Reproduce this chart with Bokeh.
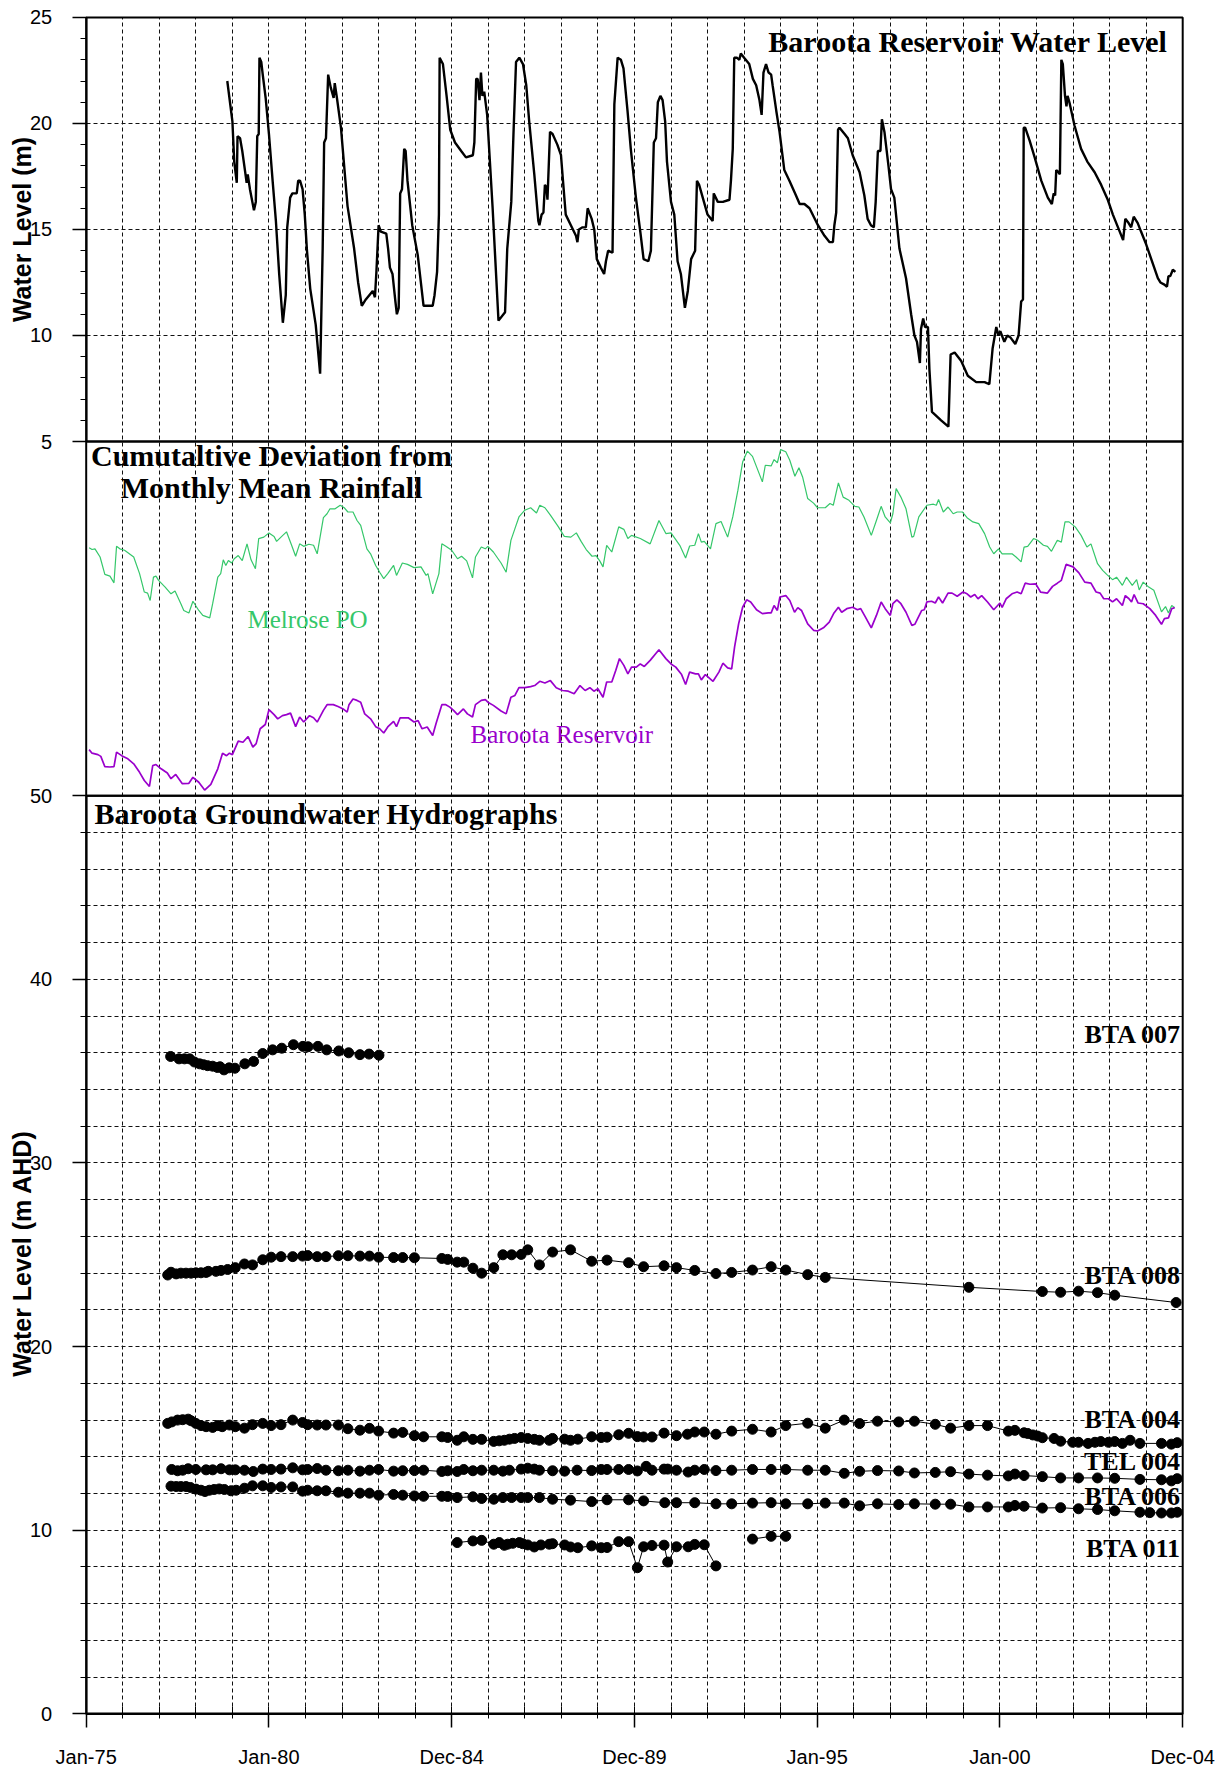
import math
import numpy as np
from bokeh.plotting import figure
from bokeh.models import Range1d, LinearAxis, FixedTicker, Grid, Label, BoxAnnotation
from bokeh.embed import file_html
from bokeh.resources import INLINE

# ---------------- data ----------------
# Baroota Reservoir water level (m)
res_year = [1978.86, 1979.00, 1979.05, 1979.12, 1979.14, 1979.21, 1979.27, 1979.35, 1979.39, 1979.42,
            1979.48, 1979.59, 1979.64, 1979.68, 1979.72, 1979.74, 1979.79, 1979.83, 1979.91, 1980.00,
            1980.10, 1980.19, 1980.28, 1980.38, 1980.46, 1980.50, 1980.58, 1980.64, 1980.76, 1980.80,
            1980.85, 1980.92, 1980.98, 1981.04, 1981.13, 1981.28, 1981.40, 1981.47, 1981.51, 1981.56,
            1981.62, 1981.69, 1981.77, 1981.80, 1981.86, 1981.97, 1982.15, 1982.33, 1982.44, 1982.54,
            1982.65, 1982.84, 1982.90, 1982.94, 1983.00, 1983.06, 1983.21, 1983.26, 1983.31, 1983.38,
            1983.46, 1983.50, 1983.55, 1983.59, 1983.64, 1983.70, 1983.74, 1983.79, 1983.92, 1984.07,
            1984.23, 1984.48, 1984.53, 1984.60, 1984.65, 1984.67, 1984.76, 1984.86, 1984.96, 1985.09,
            1985.26, 1985.39, 1985.58, 1985.62, 1985.67, 1985.71, 1985.76, 1985.80, 1985.84, 1985.89,
            1985.97, 1986.12, 1986.28, 1986.46, 1986.52, 1986.63, 1986.69, 1986.76, 1986.85, 1986.95,
            1987.04, 1987.12, 1987.26, 1987.37, 1987.40, 1987.46, 1987.51, 1987.55, 1987.59, 1987.62,
            1987.69, 1987.76, 1987.89, 1987.99, 1988.04, 1988.12, 1988.26, 1988.40, 1988.44, 1988.48,
            1988.58, 1988.67, 1988.72, 1988.83, 1988.90, 1988.97, 1989.08, 1989.17, 1989.22, 1989.28,
            1989.40, 1989.45, 1989.54, 1989.63, 1989.70, 1989.81, 1989.90, 1990.04, 1990.16, 1990.25,
            1990.38, 1990.45, 1990.53, 1990.59, 1990.64, 1990.71, 1990.77, 1990.84, 1990.89, 1991.00,
            1991.09, 1991.18, 1991.27, 1991.38, 1991.46, 1991.55, 1991.66, 1991.71, 1991.77, 1992.00,
            1992.14, 1992.17, 1992.28, 1992.42, 1992.60, 1992.64, 1992.69, 1992.73, 1992.80, 1992.87,
            1992.91, 1993.00, 1993.14, 1993.24, 1993.33, 1993.42, 1993.48, 1993.53, 1993.60, 1993.67,
            1993.74, 1993.78, 1993.88, 1993.97, 1994.10, 1994.24, 1994.42, 1994.52, 1994.65, 1994.79,
            1995.02, 1995.20, 1995.34, 1995.43, 1995.47, 1995.52, 1995.57, 1995.61, 1995.75, 1995.84,
            1995.97, 1996.16, 1996.29, 1996.38, 1996.47, 1996.55, 1996.60, 1996.66, 1996.73, 1996.77,
            1996.84, 1996.95, 1997.02, 1997.11, 1997.25, 1997.43, 1997.57, 1997.66, 1997.73, 1997.81,
            1997.84, 1997.90, 1997.95, 1998.03, 1998.07, 1998.14, 1998.39, 1998.59, 1998.65, 1998.76,
            1998.94, 1999.12, 1999.35, 1999.58, 1999.71, 1999.80, 1999.90, 1999.96, 2000.01, 2000.12,
            2000.20, 2000.29, 2000.42, 2000.51, 2000.58, 2000.63, 2000.65, 2000.69, 2000.81, 2000.95,
            2001.13, 2001.31, 2001.42, 2001.47, 2001.51, 2001.54, 2001.60, 2001.64, 2001.68, 2001.72,
            2001.78, 2001.82, 2001.85, 2001.90, 2002.04, 2002.22, 2002.39, 2002.59, 2002.77, 2002.95,
            2003.09, 2003.23, 2003.37, 2003.43, 2003.52, 2003.59, 2003.66, 2003.77, 2003.86, 2004.00,
            2004.14, 2004.32, 2004.39, 2004.50, 2004.57, 2004.61, 2004.66, 2004.73, 2004.80]
res_level = [22.0, 20.1, 18.2, 17.2, 19.4, 19.3, 18.7, 17.7, 17.2, 17.6,
             16.9, 15.9, 16.3, 19.4, 19.5, 23.1, 22.9, 22.3, 21.2, 19.5,
             17.3, 15.4, 12.9, 10.6, 11.9, 15.1, 16.5, 16.7, 16.7, 17.3,
             17.3, 16.9, 15.7, 14.0, 12.2, 10.5, 8.2, 14.1, 19.1, 19.3,
             22.3, 21.7, 21.2, 21.9, 21.2, 19.8, 16.1, 14.1, 12.5, 11.4,
             11.7, 12.1, 11.8, 13.0, 15.2, 14.9, 14.8, 14.1, 13.2, 12.9,
             11.6, 11.0, 11.3, 16.7, 16.9, 18.8, 18.7, 17.3, 15.2, 13.8,
             11.4, 11.4, 11.9, 13.0, 15.7, 23.1, 22.8, 21.3, 19.7, 19.1,
             18.7, 18.4, 18.5, 19.1, 22.1, 22.1, 21.1, 22.4, 21.3, 21.5,
             20.4, 16.0, 10.7, 11.1, 14.1, 16.3, 19.5, 22.9, 23.1, 22.8,
             21.8, 20.1, 17.6, 15.4, 15.2, 15.7, 15.8, 17.1, 17.0, 16.4,
             19.6, 19.5, 19.0, 18.5, 17.4, 15.7, 15.2, 14.7, 14.4, 15.0,
             15.1, 15.1, 16.0, 15.5, 15.0, 13.6, 13.2, 12.9, 13.5, 14.0,
             13.9, 20.9, 23.1, 23.0, 22.6, 20.6, 18.8, 16.5, 14.9, 13.6,
             13.5, 14.0, 19.1, 19.3, 21.0, 21.3, 21.1, 20.1, 18.2, 16.3,
             15.7, 13.5, 12.9, 11.3, 12.1, 13.6, 14.0, 17.3, 17.1, 15.7,
             15.4, 16.7, 16.3, 16.3, 16.4, 17.3, 18.8, 23.1, 23.1, 23.0,
             23.3, 23.1, 22.8, 22.1, 21.8, 21.1, 20.4, 22.4, 22.8, 22.4,
             22.3, 21.8, 20.6, 19.6, 17.8, 17.3, 16.6, 16.2, 16.2, 16.0,
             15.2, 14.7, 14.4, 14.4, 15.2, 15.8, 19.7, 19.8, 19.5, 19.3,
             18.5, 17.7, 16.6, 15.5, 15.2, 15.1, 16.3, 18.7, 18.7, 20.2,
             19.6, 18.0, 16.9, 16.5, 14.1, 12.7, 11.0, 10.0, 9.7, 8.7,
             10.3, 10.8, 10.4, 10.4, 8.4, 6.4, 6.0, 5.7, 9.1, 9.2,
             8.8, 8.1, 7.8, 7.8, 7.7, 9.4, 10.4, 10.0, 10.2, 9.7,
             10.0, 9.9, 9.6, 10.0, 11.6, 11.7, 19.8, 19.8, 19.2, 18.4,
             17.3, 16.5, 16.2, 16.7, 16.6, 17.8, 17.7, 17.6, 23.0, 22.8,
             21.3, 20.8, 21.3, 21.0, 19.9, 18.8, 18.2, 17.7, 17.1, 16.4,
             15.7, 15.1, 14.5, 15.5, 15.3, 15.1, 15.6, 15.3, 14.9, 14.3,
             13.6, 12.7, 12.5, 12.4, 12.3, 12.8, 12.8, 13.1, 13.0]

# Cumulative deviation from monthly mean rainfall (relative units, no scale shown)
melrose_year = [1975.08, 1975.16, 1975.24, 1975.38, 1975.51, 1975.65, 1975.76, 1975.83, 1975.92, 1976.05,
                1976.30, 1976.46, 1976.59, 1976.68, 1976.75, 1976.84, 1976.91, 1976.98, 1977.16, 1977.32,
                1977.43, 1977.59, 1977.67, 1977.81, 1977.92, 1978.08, 1978.19, 1978.38, 1978.46, 1978.60,
                1978.68, 1978.75, 1978.82, 1978.89, 1978.98, 1979.05, 1979.16, 1979.27, 1979.40, 1979.51,
                1979.63, 1979.72, 1979.86, 1980.00, 1980.14, 1980.21, 1980.35, 1980.48, 1980.62, 1980.73,
                1980.84, 1980.95, 1981.09, 1981.22, 1981.32, 1981.49, 1981.59, 1981.67, 1981.81, 1981.95,
                1982.06, 1982.16, 1982.30, 1982.41, 1982.51, 1982.68, 1982.78, 1982.92, 1983.03, 1983.14,
                1983.25, 1983.41, 1983.49, 1983.65, 1983.79, 1983.97, 1984.16, 1984.30, 1984.35, 1984.48,
                1984.65, 1984.73, 1984.84, 1985.00, 1985.16, 1985.27, 1985.41, 1985.57, 1985.65, 1985.81,
                1985.92, 1985.99, 1986.14, 1986.35, 1986.49, 1986.62, 1986.73, 1986.84, 1987.00, 1987.16,
                1987.32, 1987.41, 1987.55, 1987.70, 1987.92, 1988.08, 1988.26, 1988.41, 1988.54, 1988.68,
                1988.84, 1988.95, 1989.05, 1989.14, 1989.24, 1989.38, 1989.57, 1989.71, 1989.82, 1989.92,
                1990.16, 1990.43, 1990.67, 1990.86, 1991.00, 1991.24, 1991.40, 1991.51, 1991.65, 1991.75,
                1991.83, 1991.91, 1992.08, 1992.23, 1992.37, 1992.55, 1992.69, 1992.83, 1992.96, 1993.09,
                1993.23, 1993.50, 1993.58, 1993.74, 1993.82, 1993.91, 1994.00, 1994.14, 1994.25, 1994.39,
                1994.50, 1994.60, 1994.74, 1994.90, 1995.01, 1995.22, 1995.35, 1995.44, 1995.58, 1995.71,
                1995.87, 1996.03, 1996.14, 1996.28, 1996.48, 1996.62, 1996.75, 1996.86, 1997.00, 1997.07,
                1997.16, 1997.29, 1997.43, 1997.59, 1997.64, 1997.78, 1998.00, 1998.18, 1998.26, 1998.32,
                1998.45, 1998.58, 1998.72, 1998.83, 1998.97, 1999.10, 1999.26, 1999.42, 1999.58, 1999.72,
                1999.83, 1999.96, 2000.06, 2000.23, 2000.33, 2000.44, 2000.58, 2000.66, 2000.76, 2000.92,
                2001.03, 2001.19, 2001.30, 2001.41, 2001.57, 2001.68, 2001.78, 2001.89, 2002.06, 2002.22,
                2002.38, 2002.49, 2002.67, 2002.81, 2002.92, 2003.08, 2003.19, 2003.35, 2003.46, 2003.62,
                2003.74, 2003.81, 2003.92, 2004.07, 2004.21, 2004.42, 2004.53, 2004.61, 2004.70, 2004.78]
melrose_dev = [70.0, 69.5, 69.7, 67.4, 62.5, 62.0, 60.1, 70.4, 69.7, 69.3,
               67.4, 62.7, 57.5, 57.2, 55.1, 61.7, 62.0, 60.8, 58.9, 57.0,
               57.8, 54.2, 52.3, 51.6, 54.9, 52.3, 50.9, 50.2, 54.2, 61.7,
               62.7, 66.6, 65.0, 66.4, 65.7, 66.9, 67.8, 66.4, 71.1, 66.6,
               64.1, 72.6, 73.0, 74.2, 73.2, 71.8, 73.2, 74.5, 70.7, 67.6,
               71.1, 70.4, 71.0, 70.7, 68.3, 78.5, 79.6, 81.0, 81.0, 82.0,
               81.3, 80.1, 80.1, 77.7, 76.3, 69.7, 68.3, 65.0, 63.1, 61.3,
               62.7, 65.0, 62.2, 65.7, 65.3, 64.4, 64.6, 62.2, 62.7, 57.0,
               62.7, 71.1, 70.4, 69.3, 66.9, 67.6, 66.3, 61.5, 67.4, 70.2,
               69.7, 70.4, 68.8, 65.7, 63.1, 72.1, 75.4, 78.7, 80.6, 81.3,
               79.8, 82.0, 81.3, 79.2, 75.9, 73.2, 73.0, 74.2, 71.8, 69.5,
               67.6, 67.8, 66.3, 64.6, 70.7, 68.8, 75.9, 75.2, 72.6, 73.5,
               72.6, 71.1, 77.7, 74.0, 74.2, 70.7, 67.1, 70.5, 70.7, 74.0,
               71.6, 71.8, 69.7, 76.8, 77.4, 73.0, 78.7, 86.2, 94.2, 97.3,
               95.8, 88.6, 93.3, 93.1, 94.9, 94.0, 97.7, 97.1, 94.7, 90.2,
               92.6, 90.0, 83.9, 82.6, 81.3, 81.3, 82.5, 82.0, 88.3, 84.3,
               83.4, 81.7, 81.5, 78.7, 73.5, 77.7, 81.7, 78.7, 77.0, 79.6,
               86.7, 84.3, 81.0, 73.0, 73.2, 78.7, 82.0, 82.3, 82.0, 83.6,
               80.1, 81.5, 79.6, 80.1, 80.1, 78.5, 77.3, 76.8, 74.0, 70.2,
               68.3, 69.7, 68.3, 68.3, 68.3, 67.4, 66.0, 70.2, 70.4, 72.6,
               72.1, 70.7, 70.4, 69.0, 72.1, 71.6, 77.3, 77.3, 75.9, 73.5,
               70.2, 71.1, 65.5, 63.6, 62.5, 61.0, 61.7, 59.4, 61.7, 59.4,
               61.0, 58.1, 60.3, 58.9, 58.0, 51.9, 53.4, 51.6, 53.7, 53.1]

baroota_year = [1975.08, 1975.16, 1975.32, 1975.40, 1975.51, 1975.65, 1975.76, 1975.83, 1975.97, 1976.14,
                1976.30, 1976.46, 1976.59, 1976.73, 1976.82, 1976.91, 1977.05, 1977.22, 1977.32, 1977.45,
                1977.63, 1977.81, 1977.92, 1978.08, 1978.24, 1978.41, 1978.60, 1978.73, 1978.84, 1978.92,
                1979.00, 1979.16, 1979.29, 1979.43, 1979.56, 1979.65, 1979.76, 1979.90, 1980.00, 1980.14,
                1980.24, 1980.37, 1980.48, 1980.59, 1980.73, 1980.84, 1980.95, 1981.11, 1981.22, 1981.32,
                1981.49, 1981.59, 1981.76, 1981.89, 1982.03, 1982.14, 1982.19, 1982.30, 1982.41, 1982.51,
                1982.62, 1982.78, 1982.92, 1983.03, 1983.14, 1983.25, 1983.41, 1983.49, 1983.59, 1983.81,
                1983.97, 1984.08, 1984.19, 1984.33, 1984.48, 1984.57, 1984.73, 1984.84, 1984.95, 1985.05,
                1985.16, 1985.32, 1985.43, 1985.57, 1985.65, 1985.81, 1985.92, 1985.99, 1986.14, 1986.35,
                1986.49, 1986.62, 1986.73, 1986.84, 1987.00, 1987.16, 1987.27, 1987.41, 1987.55, 1987.70,
                1987.86, 1988.03, 1988.19, 1988.35, 1988.51, 1988.65, 1988.78, 1988.89, 1989.00, 1989.14,
                1989.24, 1989.38, 1989.49, 1989.59, 1989.71, 1989.82, 1989.92, 1990.05, 1990.16, 1990.27,
                1990.43, 1990.67, 1990.86, 1991.00, 1991.13, 1991.29, 1991.40, 1991.51, 1991.67, 1991.75,
                1991.83, 1991.94, 1992.15, 1992.31, 1992.42, 1992.55, 1992.66, 1992.74, 1992.85, 1992.96,
                1993.07, 1993.18, 1993.34, 1993.50, 1993.66, 1993.74, 1993.82, 1993.91, 1993.98, 1994.14,
                1994.25, 1994.38, 1994.47, 1994.57, 1994.74, 1994.90, 1995.01, 1995.17, 1995.33, 1995.46,
                1995.58, 1995.67, 1995.81, 1995.97, 1996.10, 1996.19, 1996.32, 1996.48, 1996.62, 1996.75,
                1996.86, 1997.00, 1997.07, 1997.18, 1997.29, 1997.43, 1997.59, 1997.67, 1997.86, 1997.93,
                1998.00, 1998.13, 1998.23, 1998.32, 1998.43, 1998.58, 1998.69, 1998.83, 1998.99, 1999.10,
                1999.20, 1999.31, 1999.40, 1999.50, 1999.66, 1999.83, 2000.00, 2000.06, 2000.17, 2000.33,
                2000.47, 2000.58, 2000.69, 2000.82, 2000.98, 2001.11, 2001.30, 2001.44, 2001.57, 2001.68,
                2001.81, 2002.00, 2002.16, 2002.32, 2002.49, 2002.63, 2002.74, 2002.84, 2002.97, 2003.08,
                2003.19, 2003.35, 2003.43, 2003.53, 2003.60, 2003.67, 2003.78, 2003.92, 2004.10, 2004.26,
                2004.42, 2004.50, 2004.61, 2004.70, 2004.78]
baroota_dev = [13.0, 12.0, 11.6, 11.1, 8.2, 8.1, 8.2, 12.3, 11.3, 10.4,
               9.0, 6.6, 4.3, 2.6, 8.5, 8.8, 7.6, 6.4, 4.8, 6.0,
               3.4, 3.5, 5.2, 3.8, 1.6, 3.2, 7.6, 12.0, 11.3, 12.0,
               11.6, 15.4, 15.1, 16.7, 13.7, 14.7, 18.9, 20.1, 24.3, 22.9,
               21.7, 22.6, 22.9, 23.3, 19.5, 22.2, 20.8, 22.6, 22.0, 20.8,
               24.1, 25.7, 25.7, 25.2, 24.5, 23.6, 25.7, 27.3, 26.9, 26.4,
               23.1, 21.7, 19.5, 18.9, 17.7, 19.4, 21.0, 19.5, 22.0, 22.0,
               20.8, 21.2, 18.9, 19.4, 17.0, 20.3, 25.7, 25.7, 25.0, 24.1,
               22.9, 24.5, 23.1, 22.2, 25.7, 26.9, 27.1, 26.4, 25.5, 23.9,
               23.1, 27.8, 28.3, 30.5, 30.5, 30.8, 31.1, 32.3, 31.8, 32.5,
               30.5, 29.7, 29.5, 28.8, 31.1, 29.7, 30.5, 29.5, 30.2, 27.8,
               32.1, 32.1, 35.4, 38.7, 36.8, 34.4, 36.3, 36.3, 37.2, 36.5,
               38.2, 41.2, 38.7, 37.2, 36.3, 34.2, 31.4, 34.9, 34.4, 34.4,
               32.7, 34.2, 32.3, 34.9, 37.4, 36.1, 35.8, 42.0, 48.5, 53.2,
               55.3, 54.7, 52.5, 51.4, 51.6, 51.6, 53.7, 52.3, 56.1, 56.5,
               55.1, 51.8, 53.1, 52.3, 48.5, 46.7, 46.5, 47.4, 49.0, 51.6,
               53.2, 51.8, 52.8, 53.2, 52.5, 52.8, 50.4, 47.4, 50.9, 54.7,
               52.8, 50.9, 54.2, 55.3, 54.2, 51.8, 48.1, 48.4, 52.3, 52.5,
               54.7, 54.9, 54.4, 56.1, 54.4, 57.2, 57.2, 56.3, 57.5, 57.0,
               56.1, 56.8, 55.6, 56.5, 54.7, 52.5, 54.4, 53.2, 55.6, 57.0,
               57.5, 57.0, 60.0, 59.7, 59.8, 57.5, 57.2, 59.1, 60.0, 60.8,
               65.3, 64.6, 62.9, 60.3, 60.0, 57.5, 57.2, 55.6, 55.6, 54.7,
               55.6, 53.7, 56.5, 55.6, 54.7, 56.8, 54.4, 54.2, 52.8, 50.9,
               48.4, 50.0, 50.2, 52.8, 53.1]

# Groundwater hydrographs (m AHD)
bta007_year = [1977.31, 1977.54, 1977.69, 1977.83, 1977.96, 1978.10, 1978.21, 1978.32, 1978.46, 1978.59,
               1978.66, 1978.77, 1978.91, 1979.07, 1979.34, 1979.58, 1979.83, 1980.10, 1980.35, 1980.67,
               1980.93, 1981.07, 1981.34, 1981.58, 1981.91, 1982.18, 1982.49, 1982.74, 1983.01]
bta007_level = [35.80, 35.67, 35.67, 35.67, 35.50, 35.40, 35.35, 35.30, 35.27, 35.20,
                35.24, 35.07, 35.18, 35.16, 35.40, 35.53, 35.96, 36.16, 36.25, 36.44,
                36.35, 36.33, 36.35, 36.16, 36.10, 36.00, 35.90, 35.93, 35.87]

bta008_year = [1977.23, 1977.32, 1977.46, 1977.59, 1977.73, 1977.87, 1978.00, 1978.14, 1978.28, 1978.34,
               1978.55, 1978.69, 1978.87, 1979.08, 1979.33, 1979.55, 1979.83, 1980.06, 1980.33, 1980.65,
               1980.92, 1981.06, 1981.32, 1981.56, 1981.90, 1982.16, 1982.49, 1982.75, 1983.00, 1983.41,
               1983.66, 1983.98, 1984.73, 1984.89, 1985.15, 1985.33, 1985.58, 1985.82, 1986.15, 1986.40,
               1986.64, 1986.90, 1987.08, 1987.40, 1987.76, 1988.25, 1988.83, 1989.25, 1989.84, 1990.25,
               1990.81, 1991.15, 1991.65, 1992.23, 1992.66, 1993.23, 1993.74, 1994.14, 1994.74, 1995.22,
               1999.15, 2001.16, 2001.66, 2002.15, 2002.67, 2003.14, 2004.82]
bta008_level = [23.90, 24.05, 23.96, 24.00, 24.00, 24.00, 24.02, 24.02, 24.04, 24.10,
                24.10, 24.15, 24.20, 24.30, 24.50, 24.45, 24.73, 24.87, 24.90, 24.90,
                24.93, 24.96, 24.90, 24.90, 24.95, 24.95, 24.93, 24.93, 24.87, 24.85,
                24.85, 24.84, 24.80, 24.75, 24.60, 24.60, 24.27, 24.00, 24.30, 25.00,
                25.00, 25.02, 25.27, 24.45, 25.15, 25.27, 24.65, 24.71, 24.57, 24.35,
                24.40, 24.30, 24.15, 23.98, 24.04, 24.17, 24.35, 24.17, 23.92, 23.77,
                23.23, 23.00, 22.96, 23.02, 22.94, 22.80, 22.40]

bta004_year = [1977.23, 1977.34, 1977.50, 1977.64, 1977.79, 1977.87, 1978.00, 1978.14, 1978.28, 1978.46,
               1978.60, 1978.72, 1978.92, 1979.08, 1979.33, 1979.55, 1979.83, 1980.06, 1980.33, 1980.65,
               1980.92, 1981.06, 1981.32, 1981.56, 1981.90, 1982.16, 1982.49, 1982.75, 1983.00, 1983.41,
               1983.66, 1983.98, 1984.23, 1984.73, 1984.89, 1985.15, 1985.33, 1985.58, 1985.82, 1986.15,
               1986.30, 1986.44, 1986.58, 1986.72, 1986.90, 1987.08, 1987.26, 1987.40, 1987.67, 1987.76,
               1988.09, 1988.25, 1988.45, 1988.83, 1989.09, 1989.25, 1989.57, 1989.84, 1990.08, 1990.25,
               1990.48, 1990.81, 1991.15, 1991.45, 1991.65, 1991.91, 1992.23, 1992.66, 1993.23, 1993.74,
               1994.14, 1994.74, 1995.22, 1995.74, 1996.16, 1996.65, 1997.23, 1997.66, 1998.23, 1998.65,
               1999.15, 1999.66, 2000.23, 2000.41, 2000.66, 2000.76, 2000.90, 2001.03, 2001.16, 2001.48,
               2001.66, 2001.99, 2002.15, 2002.41, 2002.60, 2002.76, 2002.97, 2003.14, 2003.35, 2003.56,
               2003.83, 2004.42, 2004.69, 2004.85]
bta004_level = [15.82, 15.90, 16.00, 16.02, 16.05, 15.96, 15.82, 15.70, 15.64, 15.60,
                15.70, 15.64, 15.73, 15.64, 15.56, 15.75, 15.82, 15.70, 15.75, 16.00,
                15.87, 15.75, 15.73, 15.73, 15.73, 15.53, 15.45, 15.55, 15.40, 15.29,
                15.33, 15.15, 15.09, 15.09, 15.05, 14.90, 15.09, 14.95, 14.95, 14.84,
                14.87, 14.90, 14.96, 15.00, 15.05, 15.00, 14.95, 14.90, 14.90, 15.00,
                14.96, 14.90, 14.96, 15.09, 15.05, 15.07, 15.20, 15.28, 15.10, 15.08,
                15.08, 15.29, 15.15, 15.23, 15.35, 15.35, 15.23, 15.40, 15.50, 15.35,
                15.70, 15.83, 15.56, 16.00, 15.81, 15.94, 15.90, 15.94, 15.77, 15.56,
                15.70, 15.70, 15.40, 15.44, 15.31, 15.27, 15.19, 15.13, 15.04, 15.00,
                14.85, 14.79, 14.79, 14.73, 14.79, 14.83, 14.79, 14.83, 14.73, 14.90,
                14.73, 14.73, 14.69, 14.77]

tel004_year = [1977.34, 1977.50, 1977.64, 1977.79, 1978.00, 1978.28, 1978.46, 1978.69, 1978.92, 1979.08,
               1979.33, 1979.57, 1979.83, 1980.06, 1980.33, 1980.65, 1980.92, 1981.06, 1981.32, 1981.56,
               1981.90, 1982.16, 1982.49, 1982.75, 1983.00, 1983.41, 1983.66, 1983.98, 1984.23, 1984.73,
               1984.89, 1985.15, 1985.33, 1985.58, 1985.82, 1986.15, 1986.40, 1986.58, 1986.90, 1987.08,
               1987.26, 1987.40, 1987.76, 1988.09, 1988.43, 1988.83, 1989.09, 1989.25, 1989.57, 1989.84,
               1990.08, 1990.32, 1990.48, 1990.81, 1990.91, 1991.15, 1991.47, 1991.65, 1991.91, 1992.23,
               1992.66, 1993.23, 1993.74, 1994.14, 1994.74, 1995.22, 1995.74, 1996.16, 1996.65, 1997.23,
               1997.66, 1998.23, 1998.65, 1999.15, 1999.66, 2000.23, 2000.41, 2000.66, 2001.16, 2001.66,
               2002.15, 2002.67, 2003.14, 2003.83, 2004.42, 2004.69, 2004.85]
tel004_level = [13.31, 13.24, 13.27, 13.35, 13.31, 13.29, 13.29, 13.35, 13.29, 13.29,
                13.27, 13.20, 13.33, 13.31, 13.33, 13.40, 13.29, 13.31, 13.36, 13.27,
                13.24, 13.27, 13.22, 13.27, 13.31, 13.22, 13.24, 13.25, 13.27, 13.20,
                13.24, 13.20, 13.31, 13.24, 13.27, 13.27, 13.22, 13.27, 13.33, 13.38,
                13.33, 13.27, 13.24, 13.22, 13.27, 13.25, 13.31, 13.31, 13.31, 13.31,
                13.23, 13.48, 13.27, 13.33, 13.33, 13.27, 13.17, 13.27, 13.31, 13.25,
                13.27, 13.31, 13.31, 13.31, 13.27, 13.27, 13.10, 13.21, 13.25, 13.23,
                13.12, 13.15, 13.19, 13.06, 13.00, 12.96, 13.06, 12.98, 12.92, 12.85,
                12.85, 12.85, 12.83, 12.77, 12.75, 12.69, 12.81]

bta006_year = [1977.32, 1977.46, 1977.59, 1977.73, 1977.85, 1978.00, 1978.14, 1978.25, 1978.37, 1978.50,
               1978.64, 1978.78, 1978.96, 1979.10, 1979.33, 1979.55, 1979.83, 1980.06, 1980.33, 1980.65,
               1980.92, 1981.06, 1981.32, 1981.56, 1981.90, 1982.16, 1982.49, 1982.75, 1983.00, 1983.41,
               1983.66, 1983.98, 1984.23, 1984.73, 1984.89, 1985.15, 1985.58, 1985.82, 1986.15, 1986.40,
               1986.64, 1986.90, 1987.08, 1987.40, 1987.76, 1988.25, 1988.83, 1989.25, 1989.84, 1990.25,
               1990.83, 1991.15, 1991.65, 1992.23, 1992.66, 1993.23, 1993.74, 1994.14, 1994.74, 1995.22,
               1995.74, 1996.16, 1996.65, 1997.23, 1997.66, 1998.23, 1998.65, 1999.15, 1999.66, 2000.23,
               2000.41, 2000.66, 2001.16, 2001.66, 2002.15, 2002.67, 2003.14, 2003.83, 2004.10, 2004.42,
               2004.69, 2004.85]
bta006_level = [12.40, 12.38, 12.38, 12.38, 12.33, 12.24, 12.18, 12.11, 12.18, 12.22,
                12.25, 12.22, 12.15, 12.18, 12.29, 12.42, 12.42, 12.33, 12.36, 12.36,
                12.13, 12.18, 12.15, 12.15, 12.07, 12.02, 12.02, 12.02, 11.91, 11.95,
                11.91, 11.87, 11.85, 11.85, 11.84, 11.78, 11.82, 11.73, 11.69, 11.78,
                11.78, 11.78, 11.78, 11.78, 11.69, 11.64, 11.56, 11.66, 11.66, 11.60,
                11.50, 11.50, 11.50, 11.44, 11.44, 11.48, 11.50, 11.44, 11.44, 11.48,
                11.48, 11.33, 11.44, 11.40, 11.44, 11.42, 11.42, 11.27, 11.27, 11.27,
                11.35, 11.31, 11.21, 11.23, 11.17, 11.13, 11.06, 10.98, 10.96, 10.94,
                10.94, 10.98]

bta011_year = np.array([1985.15, 1985.58, 1985.82, 1986.15, 1986.30, 1986.44, 1986.53, 1986.67, 1986.85, 1986.94,
                        1987.08, 1987.26, 1987.44, 1987.67, 1987.76, 1988.09, 1988.25, 1988.45, 1988.83, 1989.09,
                        1989.25, 1989.57, 1989.84, 1990.08, 1990.25, 1990.48, 1990.81, 1990.91, 1991.15, 1991.47,
                        1991.65, 1991.91, 1992.23, 1992.70, 1993.23, 1993.74, 1994.14])
bta011_level = np.array([9.33, 9.42, 9.45, 9.24, 9.33, 9.18, 9.24, 9.29, 9.33, 9.27,
                         9.20, 9.09, 9.20, 9.24, 9.27, 9.20, 9.09, 9.05, 9.15, 9.05,
                         9.06, 9.38, 9.38, 7.96, 9.10, 9.17, 9.19, 8.27, 9.10, 9.10,
                         9.23, 9.21, 8.06, np.nan, 9.52, 9.67, 9.67])

x_major = [1975, 1980, 1985, 1990, 1995, 2000, 2005]
x_labels = ["Jan-75", "Jan-80", "Dec-84", "Dec-89", "Jan-95", "Jan-00", "Dec-04"]
x_minor = list(range(1975, 2006))
x_grid = list(range(1976, 2005))
res_ticks = [5, 10, 15, 20, 25]
res_minor = list(range(5, 26))
res_grid = [10, 15, 20]
gw_ticks = [0, 10, 20, 30, 40, 50]
gw_minor = list(range(0, 51, 2))
gw_grid = list(range(2, 50, 2))

# ---------------- layout (page pixels) ----------------
W, H = 1217, 1769
LEFT, RIGHT = 85.7, 1182.2          # x of Jan-75 and Dec-04
TOP, B1, B2, BOT = 16.9, 441.0, 795.2, 1713.4   # panel edges, top to bottom
X0, X1 = 1975.0, 2005.0

xs_per_px = (X1 - X0) / (RIGHT - LEFT)
x_start = X0 - LEFT * xs_per_px
x_end = X1 + (W - RIGHT) * xs_per_px


def yrange(v_top, y_top, v_bot, y_bot):
    per_px = (v_top - v_bot) / (y_bot - y_top)
    return Range1d(v_bot - (H - y_bot) * per_px, v_top + y_top * per_px), per_px


gw_range, gw_pp = yrange(50, B2, 0, BOT)
res_range, res_pp = yrange(25, TOP, 5, B1)
rain_range, rain_pp = yrange(100, B1, 0, B2)
gw_top = 50 + (B2 - TOP) * gw_pp     # groundwater-units value at the top edge of panel 1

SANS = "Liberation Sans"
SERIF = "Liberation Serif"
GREEN = "#35c76a"
PURPLE = "#9a00cc"

p = figure(width=W, height=H, min_border=0,
           x_range=Range1d(x_start, x_end), y_range=gw_range,
           x_axis_location=None, y_axis_location=None,
           output_backend="svg", toolbar_location=None, tools="")
p.extra_y_ranges = {"res": res_range, "rain": rain_range}
p.outline_line_color = None
p.background_fill_color = "white"
p.border_fill_color = "white"
for g in p.grid:
    g.visible = False

GRID_KW = dict(grid_line_color="#111111", grid_line_dash="4 3", grid_line_width=1)


def add_grid(dim, ticks, cross, rng=None):
    kw = {} if rng is None else {"y_range_name": rng}
    try:
        g = Grid(dimension=dim, ticker=FixedTicker(ticks=ticks), cross_bounds=cross, **kw, **GRID_KW)
    except (AttributeError, ValueError, TypeError):
        g = Grid(dimension=dim, ticker=FixedTicker(ticks=ticks), **kw, **GRID_KW)
    p.add_layout(g)


add_grid(0, x_grid, (0, gw_top))
add_grid(1, res_grid, (X0, X1), "res")
add_grid(1, gw_grid, (X0, X1))

# panel frames
BOX_KW = dict(left=X0, right=X1, fill_color=None, fill_alpha=0,
              line_color="black", line_alpha=1.0, line_width=2)
p.add_layout(BoxAnnotation(bottom=5, top=25, y_range_name="res", **BOX_KW))
p.add_layout(BoxAnnotation(bottom=0, top=100, y_range_name="rain", **BOX_KW))
p.add_layout(BoxAnnotation(bottom=0, top=50, **BOX_KW))

# bottom (date) axis, fixed at 0 m AHD
xa = LinearAxis(ticker=FixedTicker(ticks=x_major, minor_ticks=x_minor), bounds=(X0, X1), fixed_location=0)
xa.major_label_overrides = dict(zip(x_major, x_labels))
xa.axis_line_width = 2
xa.major_tick_in = 0
xa.major_tick_out = 14
xa.major_tick_line_width = 1.5
xa.minor_tick_in = 7
xa.minor_tick_out = 5
xa.major_label_standoff = 18
xa.major_label_text_font = SANS
xa.major_label_text_font_size = "20px"
xa.major_label_text_color = "black"
p.add_layout(xa, "below")


def make_yaxis(range_name, ticks, minor, bounds):
    kw = {} if range_name is None else {"y_range_name": range_name}
    ax = LinearAxis(ticker=FixedTicker(ticks=ticks, minor_ticks=minor), bounds=bounds,
                    fixed_location=X0, **kw)
    ax.axis_line_width = 2
    ax.major_tick_in = 0
    ax.major_tick_out = 14
    ax.major_tick_line_width = 1.5
    ax.minor_tick_in = 0
    ax.minor_tick_out = 6
    ax.major_label_standoff = 20
    ax.major_label_text_font = SANS
    ax.major_label_text_font_size = "20px"
    ax.major_label_text_color = "black"
    return ax


p.add_layout(make_yaxis("res", res_ticks, res_minor, (5, 25)), "left")
p.add_layout(make_yaxis(None, gw_ticks, gw_minor, (0, 50)), "left")

# ---------------- series ----------------
p.line(res_year, res_level, y_range_name="res", line_color="black", line_width=2.4)
p.line(melrose_year, melrose_dev, y_range_name="rain", line_color=GREEN, line_width=1.2)
p.line(baroota_year, baroota_dev, y_range_name="rain", line_color=PURPLE, line_width=1.7)

for xs, ys in [(bta007_year, bta007_level), (bta008_year, bta008_level), (bta004_year, bta004_level),
               (tel004_year, tel004_level), (bta006_year, bta006_level), (bta011_year, bta011_level)]:
    p.line(xs, ys, line_color="black", line_width=1)
    p.scatter(xs, ys, marker="circle", size=10, fill_color="black", line_color="black")


# ---------------- texts ----------------
def px_x(px):
    return X0 + (px - LEFT) * xs_per_px


def lab(x, y, text, rng=None, align="left", font=SERIF, size="30px", style="bold", color="black", angle=0.0):
    kw = {} if rng is None else {"y_range_name": rng}
    p.add_layout(Label(x=x, y=y, text=text, text_align=align, text_baseline="middle",
                       text_font=font, text_font_size=size, text_font_style=style,
                       text_color=color, angle=angle, **kw))


lab(px_x(1168), 25 - (41 - TOP) * res_pp, "Baroota Reservoir Water Level", rng="res", align="right")
lab(px_x(271), 100 - (455 - B1) * rain_pp, "Cumutaltive Deviation from", rng="rain", align="center")
lab(px_x(271), 100 - (487 - B1) * rain_pp, "Monthly Mean Rainfall", rng="rain", align="center")
lab(px_x(247), 100 - (619 - B1) * rain_pp, "Melrose PO", rng="rain", style="normal", size="25px", color=GREEN)
lab(px_x(470), 100 - (734 - B1) * rain_pp, "Baroota Reservoir", rng="rain", style="normal", size="25px", color=PURPLE)
lab(px_x(94), 50 - (813 - B2) * gw_pp, "Baroota Groundwater Hydrographs")

for name, ypx in [("BTA 007", 1034), ("BTA 008", 1275), ("BTA 004", 1419),
                  ("TEL 004", 1461), ("BTA 006", 1496), ("BTA 011", 1548)]:
    lab(px_x(1181), (BOT - ypx) * gw_pp, name, align="right", size="26px")

# rotated y-axis titles
lab(px_x(21), 25 - (229 - TOP) * res_pp, "Water Level (m)", rng="res", align="center",
    font=SANS, size="25px", angle=math.pi / 2)
lab(px_x(21), (BOT - 1253) * gw_pp, "Water Level (m AHD)", align="center",
    font=SANS, size="25px", angle=math.pi / 2)

open("out.html", "w").write(file_html(p, INLINE))
